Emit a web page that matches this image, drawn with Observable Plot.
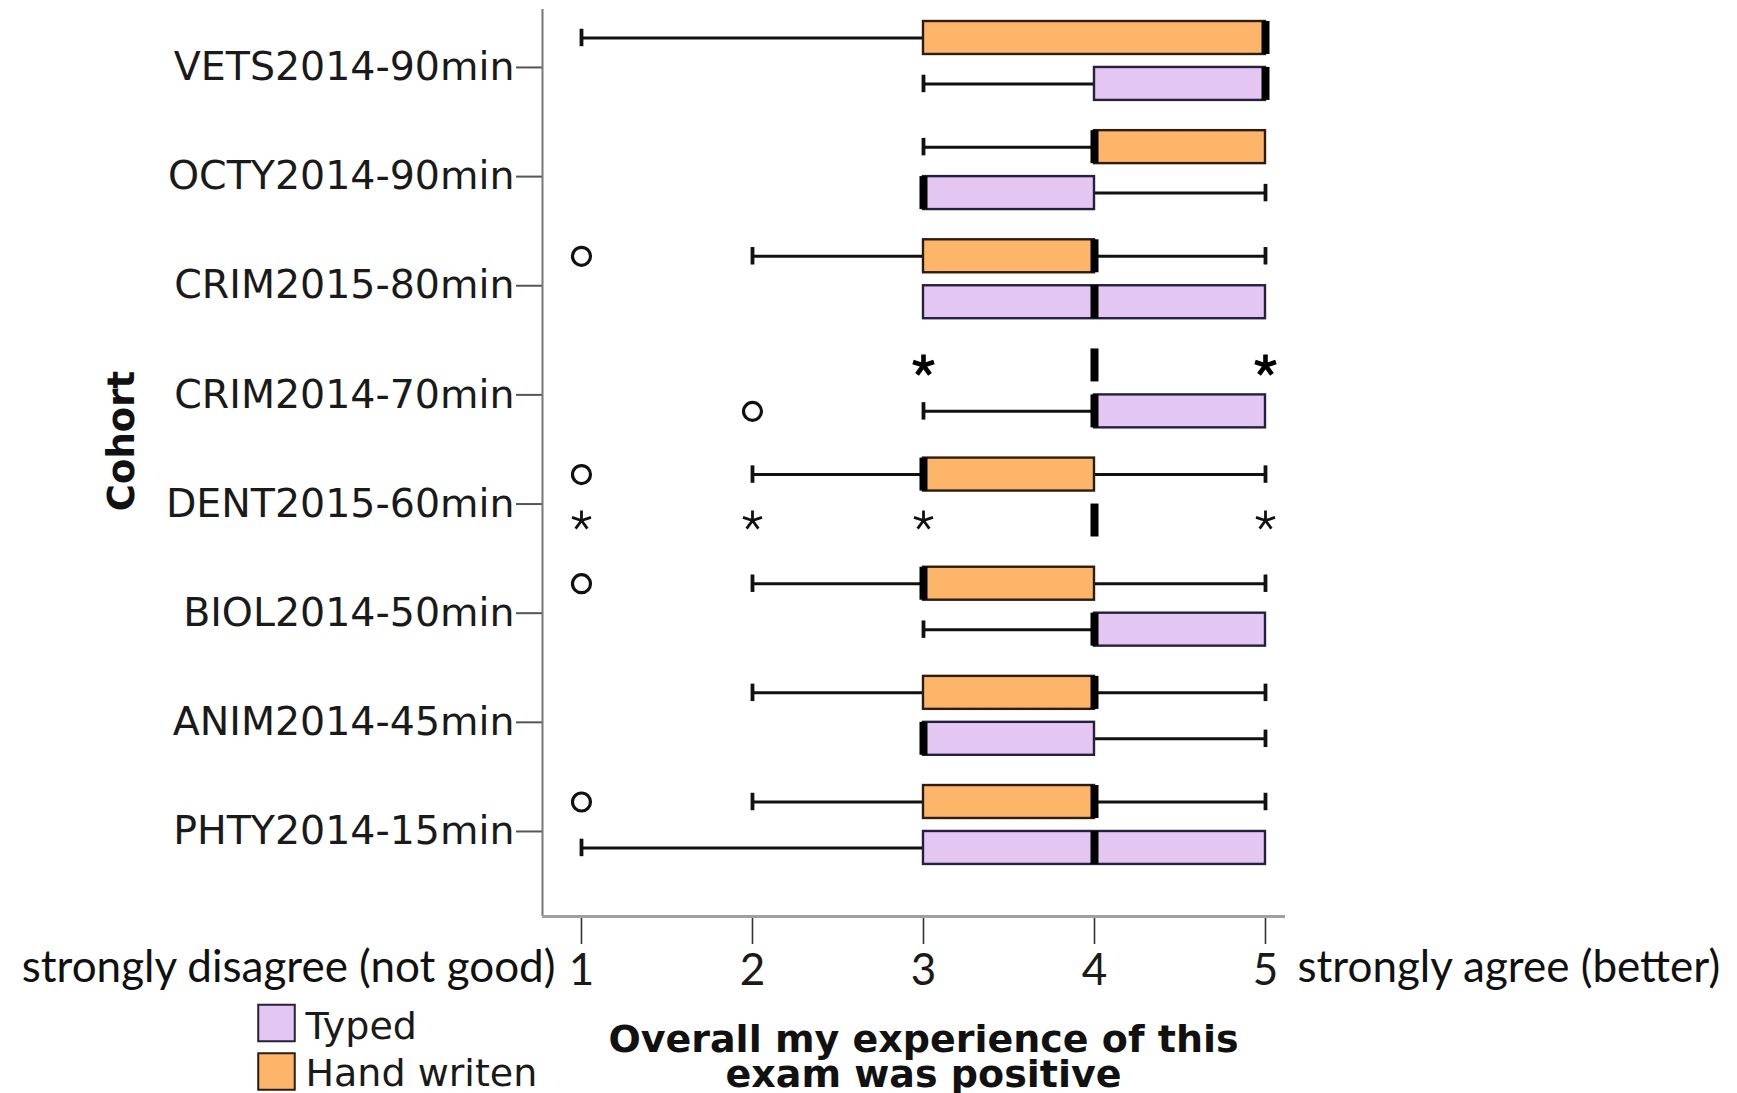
<!DOCTYPE html>
<html>
<head>
<meta charset="utf-8">
<script src="https://cdn.jsdelivr.net/npm/d3@7"></script>
<script src="https://cdn.jsdelivr.net/npm/@observablehq/plot@0.6"></script>
<style>
  html, body { margin: 0; padding: 0; background: #fff; }
  #chart { width: 1737px; height: 1093px; }
</style>
</head>
<body>
<div id="chart"></div>
<script>
// ---------- data ----------
const cohorts = ["VETS2014-90min","OCTY2014-90min","CRIM2015-80min","CRIM2014-70min","DENT2015-60min","BIOL2014-50min","ANIM2014-45min","PHTY2014-15min"];
const seriesNames = ["Hand writen", "Typed"];
const xTicks = [1, 2, 3, 4, 5];

const handLow    = [1, 3, 2, 4, 2, 2, 2, 2];
const handQ1     = [3, 4, 3, 4, 3, 3, 3, 3];
const handMedian = [5, 4, 4, 4, 3, 3, 4, 4];
const handQ3     = [5, 5, 4, 4, 4, 4, 4, 4];
const handHigh   = [5, 5, 5, 4, 5, 5, 5, 5];

const typedLow    = [3, 3, 3, 3, 4, 3, 3, 1];
const typedQ1     = [4, 3, 3, 4, 4, 4, 3, 3];
const typedMedian = [5, 3, 4, 4, 4, 4, 3, 4];
const typedQ3     = [5, 4, 5, 5, 4, 5, 4, 5];
const typedHigh   = [5, 5, 5, 5, 4, 5, 5, 5];

// outliers (circles) and extremes (stars)
const handOutlierCohorts  = ["CRIM2015-80min", "DENT2015-60min", "BIOL2014-50min", "PHTY2014-15min"];
const handOutlierValues   = [1, 1, 1, 1];
const typedOutlierCohorts = ["CRIM2014-70min"];
const typedOutlierValues  = [2];
const handExtremeCohorts  = ["CRIM2014-70min", "CRIM2014-70min"];
const handExtremeValues   = [3, 5];
const typedExtremeCohorts = ["DENT2015-60min", "DENT2015-60min", "DENT2015-60min", "DENT2015-60min"];
const typedExtremeValues  = [1, 2, 3, 5];

const xLabelLeft  = "strongly disagree (not good)";
const xLabelRight = "strongly agree (better)";
const xTitle = "Overall my experience of this\nexam was positive";
const yTitle = "Cohort";

// ---------- styling / layout ----------
const fills   = {"Hand writen": "#FDB56A", "Typed": "#E3C7F2"};
const strokes = {"Hand writen": "#2e1c12", "Typed": "#25203d"};
const slot    = {"Hand writen": -0.215, "Typed": 0.206};
const boxHalf = 0.151, capHalf = 0.08;
const xDomain = [0.772, 5.117];
const yDomain = [-0.476, 7.834];

const sets = {
  "Hand writen": {low: handLow, q1: handQ1, med: handMedian, q3: handQ3, high: handHigh},
  "Typed": {low: typedLow, q1: typedQ1, med: typedMedian, q3: typedQ3, high: typedHigh}
};
const rows = [];
for (const s of seriesNames) {
  cohorts.forEach((c, i) => {
    const d = sets[s];
    rows.push({cohort: c, series: s, y: i + slot[s],
      low: d.low[i], q1: d.q1[i], med: d.med[i], q3: d.q3[i], high: d.high[i]});
  });
}
const pts = (cs, vs, s) => cs.map((c, i) => ({cohort: c, series: s, value: vs[i], y: cohorts.indexOf(c) + slot[s]}));
const outliers = [...pts(handOutlierCohorts, handOutlierValues, "Hand writen"), ...pts(typedOutlierCohorts, typedOutlierValues, "Typed")];
const extremesHand = pts(handExtremeCohorts, handExtremeValues, "Hand writen");
const extremesTyped = pts(typedExtremeCohorts, typedExtremeValues, "Typed");

const asterisk = {
  draw(ctx, size) {
    const r = Math.sqrt(size / Math.PI);
    for (let k = 0; k < 5; k++) {
      const a = -Math.PI / 2 + k * 2 * Math.PI / 5;
      ctx.moveTo(0, 0);
      ctx.lineTo(r * Math.cos(a), r * Math.sin(a));
    }
  }
};

const lowW  = rows.filter(d => d.low < d.q1);
const highW = rows.filter(d => d.high > d.q3);
const boxes = rows.filter(d => d.q3 > d.q1);

const legendMarks = [];
seriesNames.slice().reverse().forEach((s, k) => {
  legendMarks.push(Plot.dot([s], {frameAnchor: "bottom-left", dx: -266, dy: 106.5 + k * 48.5,
    symbol: "square", r: 20.6, fill: fills[s], stroke: strokes[s], strokeWidth: 2}));
  legendMarks.push(Plot.text([s], {frameAnchor: "bottom-left", dx: -237, dy: 122 + k * 47,
    textAnchor: "start", lineAnchor: "bottom", fontSize: 38, fill: "#1a1a1a", fontFamily: "DejaVu Sans"}));
});

const chart = Plot.plot({
  width: 1737,
  height: 1093,
  marginLeft: 542,
  marginRight: 452,
  marginTop: 9,
  marginBottom: 177,
  style: {fontFamily: "DejaVu Sans", background: "#fff", overflow: "visible"},
  x: {domain: xDomain},
  y: {domain: yDomain, reverse: true},
  marks: [
    // axes
    Plot.axisY({ticks: d3.range(cohorts.length), tickFormat: i => cohorts[i], tickSize: 26, tickPadding: 2,
      fontSize: 39.5, stroke: "#555", strokeWidth: 2, fill: "#1a1a1a", dy: 6, label: null}),
    Plot.axisX({ticks: xTicks, tickFormat: d3.format("d"), tickSize: 28, tickPadding: 9, fontSize: 44, fontFamily: "Lato",
      stroke: "#333", strokeWidth: 1.6, fill: "#1a1a1a", label: null}),
    Plot.ruleX([xDomain[0]], {stroke: "#777", strokeWidth: 2}),
    Plot.ruleY([yDomain[1]], {stroke: "#a0a0a0", strokeWidth: 3}),
    // whiskers
    Plot.ruleY(lowW, {x1: "low", x2: "q1", y: "y", stroke: "#111", strokeWidth: 3}),
    Plot.ruleY(highW, {x1: "q3", x2: "high", y: "y", stroke: "#111", strokeWidth: 3}),
    Plot.ruleX(lowW, {x: "low", y1: d => d.y - capHalf, y2: d => d.y + capHalf, stroke: "#111", strokeWidth: 3.8}),
    Plot.ruleX(highW, {x: "high", y1: d => d.y - capHalf, y2: d => d.y + capHalf, stroke: "#111", strokeWidth: 3.8}),
    // boxes
    Plot.rect(boxes, {x1: "q1", x2: "q3", y1: d => d.y - boxHalf, y2: d => d.y + boxHalf,
      fill: d => fills[d.series], stroke: d => strokes[d.series], strokeWidth: 2.4}),
    // medians
    Plot.ruleX(rows, {x: "med", y1: d => d.y - boxHalf, y2: d => d.y + boxHalf, stroke: "#000", strokeWidth: 8}),
    // outliers
    Plot.dot(outliers, {x: "value", y: "y", r: 9, stroke: "#111", strokeWidth: 3.2, fill: "none"}),
    // extremes
    Plot.dot(extremesHand, {x: "value", y: "y", symbol: asterisk, r: 11, stroke: "#000", strokeWidth: 4.6, strokeLinecap: "butt"}),
    Plot.dot(extremesTyped, {x: "value", y: "y", symbol: asterisk, r: 10, stroke: "#111", strokeWidth: 2.8, strokeLinecap: "butt"}),
    // texts
    Plot.text([xLabelLeft], {x: xTicks[0], frameAnchor: "bottom", dx: -26, dy: 65, textAnchor: "end", lineAnchor: "bottom",
      fontSize: 44, fontFamily: "Lato", fill: "#111"}),
    Plot.text([xLabelRight], {x: xTicks[xTicks.length - 1], frameAnchor: "bottom", dx: 32, dy: 65, textAnchor: "start", lineAnchor: "bottom",
      fontSize: 44, fontFamily: "Lato", fill: "#111"}),
    Plot.text([xTitle], {x: d3.mean(xTicks), frameAnchor: "bottom", dy: 110, textAnchor: "middle", lineAnchor: "top",
      lineHeight: 0.93, fontSize: 38, fontWeight: "bold", fill: "#111"}),
    Plot.text([yTitle], {frameAnchor: "left", dx: -409, dy: -22, rotate: -90, textAnchor: "middle", lineAnchor: "bottom",
      fontSize: 37, fontWeight: "bold", fill: "#111"}),
    ...legendMarks
  ]
});
document.getElementById("chart").appendChild(chart);
</script>
</body>
</html>
